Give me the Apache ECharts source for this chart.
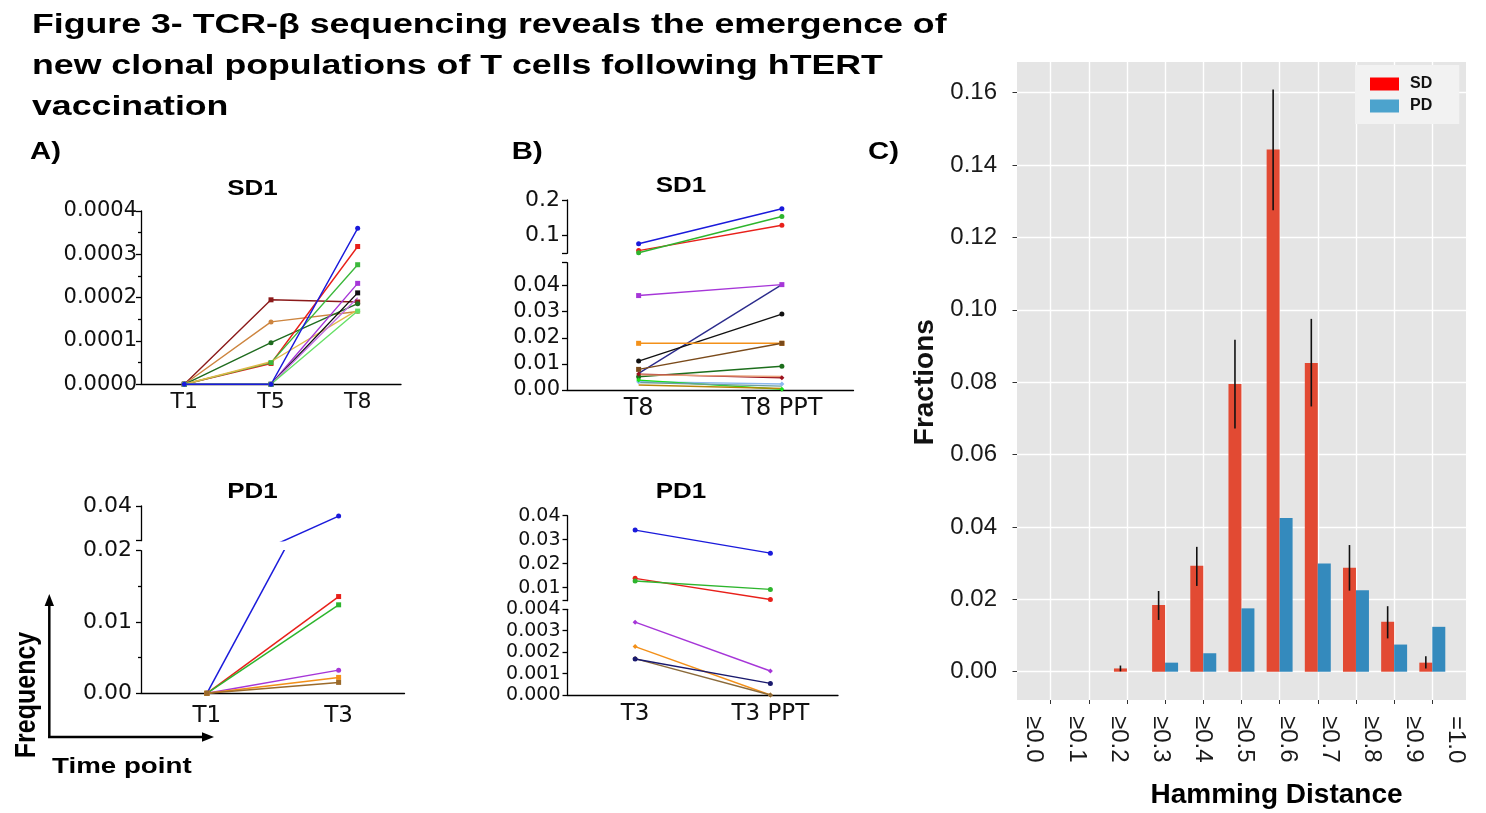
<!DOCTYPE html>
<html><head><meta charset="utf-8">
<script src="https://cdn.jsdelivr.net/npm/echarts@6/dist/echarts.min.js"></script>
<style>html,body{margin:0;padding:0;background:#fff}#c{width:1486px;height:813px}</style>
</head><body><div id="c"></div><script>
// ---------------- data ----------------
const titleLines = ['Figure 3- TCR-β sequencing reveals the emergence of',
                    'new clonal populations of T cells following hTERT',
                    'vaccination'];
const panelLabels = ['A)', 'B)', 'C)'];
const subTitles = ['SD1', 'SD1', 'PD1', 'PD1'];

// Panel A, SD1 (T1, T5, T8)
const aSd1Cats = ['T1', 'T5', 'T8'];
const aSd1Values = [
  [0, 0.000195, 0.000190],
  [0, 0.000144, 0.000168],
  [0, 0.000096, 0.000186],
  [0, 0.000048, 0.000318],
  [0, 0.000050, 0.000276],
  [0, 0.000052, 0.000172],
  [0, 0, 0.000233],
  [0, 0, 0.000211],
  [0, 0, 0.000200],
  [0, 0, 0.000169],
  [0, 0, 0.000360]
];
// Panel A, PD1 (T1, T3)
const aPd1Cats = ['T1', 'T3'];
const aPd1Values = [
  [0, 0.0342], [0, 0.01357], [0, 0.01241], [0, 0.00325], [0, 0.00223], [0, 0.00153]
];
// Panel B, SD1 (T8, T8 PPT)
const bSd1Cats = ['T8', 'T8 PPT'];
const bSd1Values = [
  [0.0751, 0.175], [0.0558, 0.128], [0.0495, 0.153],
  [0.0362, 0.0404], [0.0064, 0.0404], [0.0111, 0.0291], [0.0179, 0.0179],
  [0.0079, 0.0179], [0.0051, 0.0091], [0.0061, 0.0047], [0.0058, 0.0052],
  [0.0032, 0.0023], [0.0038, 0.0003], [0.0029, 0.0015], [0.0019, 0.0006]
];
// Panel B, PD1 (T3, T3 PPT)
const bPd1Cats = ['T3', 'T3 PPT'];
const bPd1Values = [
  [0.0340, 0.0244], [0.0139, 0.0051], [0.0128, 0.0093],
  [0.0034, 0.00112], [0.00226, 0], [0.0017, 0], [0.00168, 0.00054]
];
// Panel C
const hamCats = ['≥0.0', '≥0.1', '≥0.2', '≥0.3', '≥0.4', '≥0.5', '≥0.6', '≥0.7', '≥0.8', '≥0.9', '=1.0'];
const sdFrac = [0, 0, 0.0009, 0.0184, 0.0293, 0.0795, 0.1443, 0.0853, 0.0287, 0.0138, 0.0025];
const sdLow  = [null, null, 0.0001, 0.0143, 0.0237, 0.0672, 0.1275, 0.0733, 0.0224, 0.0092, 0.0009];
const sdHigh = [null, null, 0.0017, 0.0223, 0.0345, 0.0917, 0.1609, 0.0975, 0.0350, 0.0181, 0.0043];
const pdFrac = [0, 0, 0, 0.0025, 0.0051, 0.0175, 0.0425, 0.0299, 0.0225, 0.0075, 0.0124];
const legendNames = ['SD', 'PD'];

// ---------------- styles ----------------
const aSd1Colors = ['#8b1a1a', '#cd853f', '#1e6b1e', '#e8201a', '#3cb83c', '#e0b84a', '#a636d8', '#111111', '#c070e0', '#66e066', '#1a1adb'];
const aSd1Symbols = ['rect', 'circle', 'circle', 'rect', 'rect', 'none', 'rect', 'rect', 'none', 'rect', 'circle'];
const aPd1Colors = ['#1a1adb', '#e8201a', '#2db52d', '#a636d8', '#f39019', '#9b6a2a'];
const aPd1Symbols = ['circle', 'rect', 'rect', 'circle', 'rect', 'rect'];
const bSd1Colors = ['#1a1adb', '#e8201a', '#2db52d', '#a636d8', '#2b2b8c', '#111111', '#f39019', '#7a4a1a', '#1c6e1c', '#9b111e', '#e8a07a', '#8cb8f0', '#1be01b', '#6aa0a0', '#b8860b'];
const bSd1Symbols = ['circle', 'circle', 'circle', 'rect', 'none', 'circle', 'rect', 'rect', 'circle', 'diamond', 'none', 'diamond', 'diamond', 'none', 'none'];
const bPd1Colors = ['#1a1adb', '#e8201a', '#2db52d', '#a636d8', '#f39019', '#8b6a3a', '#1a1a6e'];
const bPd1Symbols = ['circle', 'circle', 'circle', 'diamond', 'diamond', 'diamond', 'circle'];

const FONT_AB = '"DejaVu Sans", sans-serif';
const FONT_C = '"Liberation Sans", Arial, sans-serif';
const axisStyle = { color: '#000', width: 1.3 };

const grids = [], xAxes = [], yAxes = [], series = [];

function addGrid(left, top, width, height, extra) {
  grids.push(Object.assign({ left, top, width, height, containLabel: false }, extra || {}));
  return grids.length - 1;
}
function abCatAxis(gi, cats, show, fontSize, margin) {
  xAxes.push({
    gridIndex: gi, type: 'category', data: cats, boundaryGap: true, show,
    axisLine: { lineStyle: axisStyle }, axisTick: { alignWithLabel: true, length: 5, lineStyle: axisStyle },
    axisLabel: { fontFamily: FONT_AB, fontSize, color: '#111', margin }, splitLine: { show: false }
  });
}
function abValAxis(gi, o) {
  const ax = {
    gridIndex: gi, type: 'value', min: o.min, max: o.max,
    axisLine: { show: true, lineStyle: axisStyle },
    axisTick: { show: true, length: 5, lineStyle: axisStyle },
    minorTick: o.minor ? { show: true, splitNumber: 2, length: 3, lineStyle: axisStyle } : { show: false },
    axisLabel: { fontFamily: FONT_AB, fontSize: o.fontSize, color: '#111', margin: o.margin,
                 formatter: v => Number(v).toFixed(o.digits) },
    splitLine: { show: false }
  };
  if (o.interval) ax.interval = o.interval;
  if (o.ticks) ax.axisTick.customValues = o.ticks;
  if (o.labels) ax.axisLabel.customValues = o.labels;
  yAxes.push(ax);
}
function addLines(values, colors, symbols, gi, segMin, segMax, width) {
  values.forEach((vals, k) => {
    const lo = Math.min(...vals), hi = Math.max(...vals);
    if (hi < segMin - 1e-12 || lo > segMax + 1e-12) return;
    series.push({
      type: 'line', xAxisIndex: gi, yAxisIndex: gi, data: vals, clip: true,
      symbol: symbols[k], symbolSize: 5, showSymbol: symbols[k] !== 'none',
      lineStyle: { color: colors[k], width: width || 1.4 }, itemStyle: { color: colors[k] },
      silent: true, z: 3
    });
  });
}

// ---- Panel A SD1 ----
let g = addGrid(141, 211, 260, 173.3);
abCatAxis(g, aSd1Cats, true, 22, 7);
abValAxis(g, { min: 0, max: 0.0004, interval: 0.0001, minor: true, digits: 4, fontSize: 21, margin: 4 });
addLines(aSd1Values, aSd1Colors, aSd1Symbols, g, 0, 0.0004);

// ---- Panel A PD1 (broken axis) ----
g = addGrid(141, 550.7, 263.5, 142.6);
abCatAxis(g, aPd1Cats, true, 23, 11);
abValAxis(g, { min: 0, max: 0.02, interval: 0.01, minor: true, digits: 2, fontSize: 22, margin: 9 });
addLines(aPd1Values, aPd1Colors, aPd1Symbols, g, 0, 0.02, 1.5);
g = addGrid(141, 506, 263.5, 34.7);
abCatAxis(g, aPd1Cats, false, 23, 11);
abValAxis(g, { min: 0.02, max: 0.04, ticks: [0.02, 0.04], labels: [0.04], digits: 2, fontSize: 22, margin: 9 });
addLines(aPd1Values, aPd1Colors, aPd1Symbols, g, 0.02, 0.04, 1.5);

// ---- Panel B SD1 (broken axis) ----
g = addGrid(567, 262.7, 286.5, 127.3);
abCatAxis(g, bSd1Cats, true, 24, 7);
abValAxis(g, { min: 0, max: 0.0488, ticks: [0, 0.01, 0.02, 0.03, 0.04, 0.0488], labels: [0, 0.01, 0.02, 0.03, 0.04], digits: 2, fontSize: 21, margin: 7 });
addLines(bSd1Values, bSd1Colors, bSd1Symbols, g, 0, 0.0488);
g = addGrid(567, 200, 286.5, 53.3);
abCatAxis(g, bSd1Cats, false, 24, 7);
abValAxis(g, { min: 0.048, max: 0.2, ticks: [0.048, 0.1, 0.2], labels: [0.1, 0.2], digits: 1, fontSize: 22, margin: 7 });
addLines(bSd1Values, bSd1Colors, bSd1Symbols, g, 0.048, 0.2);

// ---- Panel B PD1 (broken axis) ----
g = addGrid(567.5, 609.3, 270.5, 85.7);
abCatAxis(g, bPd1Cats, true, 23, 8);
abValAxis(g, { min: 0, max: 0.004, interval: 0.001, digits: 3, fontSize: 19, margin: 7 });
addLines(bPd1Values, bPd1Colors, bPd1Symbols, g, 0, 0.004);
g = addGrid(567.5, 515.7, 270.5, 85);
abCatAxis(g, bPd1Cats, false, 23, 8);
abValAxis(g, { min: 0.0046, max: 0.04, ticks: [0.0046, 0.01, 0.02, 0.03, 0.04], labels: [0.01, 0.02, 0.03, 0.04], digits: 2, fontSize: 19, margin: 7 });
addLines(bPd1Values, bPd1Colors, bPd1Symbols, g, 0.0046, 0.04);

// ---- Panel C ----
const hidX = gi => ({ gridIndex: gi, type: 'value', min: 0, max: 1, show: false });
const hidY = gi => ({ gridIndex: gi, type: 'value', min: 0, max: 1, show: false });
// background panel
g = addGrid(1017, 62, 449, 638, { show: true, backgroundColor: '#e5e5e5', borderWidth: 0 });
xAxes.push(hidX(g)); yAxes.push(hidY(g));
// vertical gridlines + ticks at category centres
g = addGrid(1050.6, 62, 381.7, 638);
xAxes.push({ gridIndex: g, type: 'category', data: hamCats, boundaryGap: false,
  axisLine: { show: false }, axisLabel: { show: false },
  axisTick: { show: true, length: 4, lineStyle: { color: '#333', width: 1 } },
  splitLine: { show: true, lineStyle: { color: '#ffffff', width: 1.4 } } });
yAxes.push(hidY(g));
// horizontal gridlines + y labels
g = addGrid(1017, 92.7, 449, 579);
xAxes.push(hidX(g));
yAxes.push({ gridIndex: g, type: 'value', min: 0, max: 0.16, interval: 0.02,
  name: 'Fractions', nameLocation: 'middle', nameGap: 78, nameRotate: 90,
  nameTextStyle: { fontFamily: FONT_C, fontSize: 28, fontWeight: 'bold', color: '#111' },
  axisLine: { show: false },
  axisTick: { show: true, length: 4.5, lineStyle: { color: '#333', width: 1 } },
  axisLabel: { fontFamily: FONT_C, fontSize: 24, color: '#1a1a1a', margin: 20, formatter: v => Number(v).toFixed(2) },
  splitLine: { show: true, lineStyle: { color: '#ffffff', width: 1.4 } } });
// bars
g = addGrid(1031.5, 92.7, 419.9, 579);
xAxes.push({ gridIndex: g, type: 'category', data: hamCats, show: false });
yAxes.push({ gridIndex: g, type: 'value', min: 0, max: 0.16, show: false });
series.push({ type: 'bar', name: legendNames[0], xAxisIndex: g, yAxisIndex: g, data: sdFrac,
  barGap: '0%', barCategoryGap: '32%', itemStyle: { color: '#e24a33' }, silent: true, z: 3 });
series.push({ type: 'bar', name: legendNames[1], xAxisIndex: g, yAxisIndex: g, data: pdFrac,
  barGap: '0%', barCategoryGap: '32%', itemStyle: { color: '#348abd' }, silent: true, z: 3 });
const errData = [];
sdLow.forEach((lo, i) => { if (lo !== null) errData.push([i, lo, sdHigh[i]]); });
series.push({ type: 'custom', xAxisIndex: g, yAxisIndex: g, data: errData, silent: true, z: 5,
  encode: { x: 0, y: [1, 2] },
  renderItem: (params, api) => {
    const i = api.value(0);
    const p1 = api.coord([i, api.value(1)]);
    const p2 = api.coord([i, api.value(2)]);
    const band = api.size([1, 0])[0];
    const off = -band * 0.68 / 4;
    return { type: 'line', shape: { x1: p1[0] + off, y1: p1[1], x2: p2[0] + off, y2: p2[1] },
             style: { stroke: '#111', lineWidth: 1.6 } };
  } });
// rotated category labels
g = addGrid(1012.9, 62, 464.2, 638);
xAxes.push({ gridIndex: g, type: 'category', data: hamCats, boundaryGap: true,
  axisLine: { show: false }, axisTick: { show: false }, splitLine: { show: false },
  axisLabel: { rotate: -90, fontFamily: FONT_C, fontSize: 24, color: '#1a1a1a', margin: 16, interval: 0 } });
yAxes.push(hidY(g));

// ---------------- annotations ----------------
function txt(text, x, y, size, o) {
  o = o || {};
  return {
    type: 'text', x, y, scaleX: o.sx || 1, scaleY: o.sy || 1, rotation: o.rot || 0, silent: true,
    style: { text, font: `bold ${size}px ${FONT_C}`, fill: '#000',
             textAlign: o.align || 'left', textVerticalAlign: 'middle', verticalAlign: 'middle' }
  };
}
const SX = 1.275;
const graphics = [
  txt(titleLines[0], 32, 25, 28, { sx: SX }),
  txt(titleLines[1], 32, 66.7, 28, { sx: SX }),
  txt(titleLines[2], 32, 107, 28, { sx: SX }),
  txt(panelLabels[0], 30, 153, 23, { sx: SX }),
  txt(panelLabels[1], 511.7, 152.5, 23, { sx: SX }),
  txt(panelLabels[2], 868, 152.5, 23, { sx: SX }),
  txt(subTitles[0], 252.5, 189, 22, { sx: 1.18, align: 'center' }),
  txt(subTitles[1], 681, 186, 22, { sx: 1.18, align: 'center' }),
  txt(subTitles[2], 252.5, 492, 22, { sx: 1.18, align: 'center' }),
  txt(subTitles[3], 681, 492, 22, { sx: 1.18, align: 'center' }),
  txt('Time point', 52, 767, 22, { sx: 1.26 }),
  txt('Frequency', 27, 695, 25, { rot: Math.PI / 2, sy: 1.2, align: 'center' }),
  txt('Hamming Distance', 1276.5, 795, 28, { align: 'center' }),
  { type: 'line', silent: true, shape: { x1: 49.3, y1: 738, x2: 49.3, y2: 604 }, style: { stroke: '#000', lineWidth: 2.5 } },
  { type: 'polygon', silent: true, shape: { points: [[49.3, 594], [44.6, 606], [54, 606]] }, style: { fill: '#000' } },
  { type: 'line', silent: true, shape: { x1: 48, y1: 737, x2: 204, y2: 737 }, style: { stroke: '#000', lineWidth: 2.5 } },
  { type: 'polygon', silent: true, shape: { points: [[214, 737], [202, 732.3], [202, 741.7]] }, style: { fill: '#000' } }
];

const chart = echarts.init(document.getElementById('c'), null, { renderer: 'canvas' });
chart.setOption({
  animation: false,
  backgroundColor: '#ffffff',
  grid: grids, xAxis: xAxes, yAxis: yAxes, series,
  legend: {
    data: [{ name: legendNames[0], itemStyle: { color: '#ff0000' } }, { name: legendNames[1], itemStyle: { color: '#4ca3cd' } }],
    left: 1355, top: 65, orient: 'vertical', icon: 'rect', itemWidth: 29, itemHeight: 13, itemGap: 6,
    backgroundColor: '#f2f2f2', padding: [11, 27, 10, 15], selectedMode: false,
    textStyle: { fontFamily: FONT_C, fontSize: 16, fontWeight: 'bold', color: '#111', padding: [0, 0, 0, 6] }
  },
  graphic: { elements: graphics }
});
</script></body></html>
